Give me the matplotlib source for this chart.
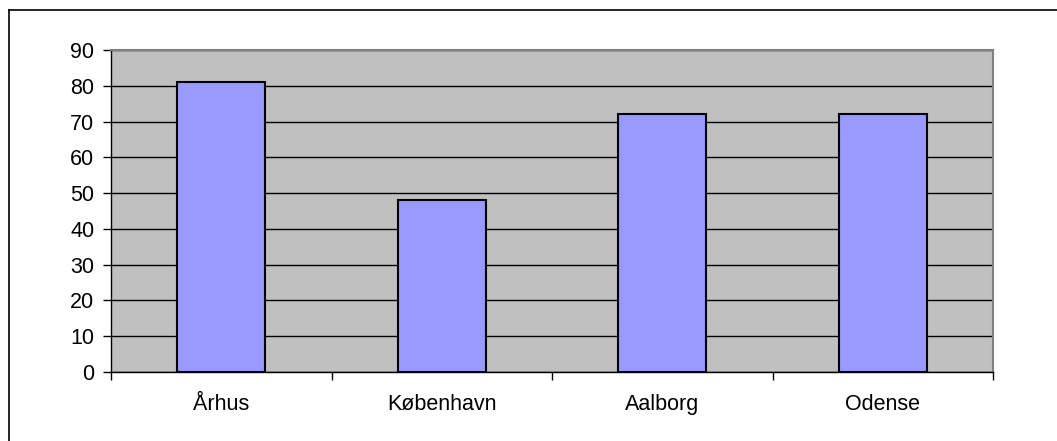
import matplotlib.pyplot as plt
from matplotlib.lines import Line2D

# Datos del grafico
ciudades = ['Århus', 'København', 'Aalborg', 'Odense']
valores = [81, 48, 72, 72]
yticks = [0, 10, 20, 30, 40, 50, 60, 70, 80, 90]

plt.rcParams['font.family'] = ['Liberation Sans', 'DejaVu Sans']

fig = plt.figure(figsize=(10.57, 4.41), dpi=100)
W, H = 1057, 441
ax = fig.add_axes([111 / W, 1 - 372 / H, (993 - 111) / W, (372 - 50) / H])
ax.set_facecolor('#C0C0C0')

x = list(range(len(ciudades)))
ax.bar(x, valores, width=0.4, color='#9999FF', edgecolor='black', linewidth=1.5, zorder=3)

ax.set_xlim(-0.5, len(ciudades) - 0.5)
ax.set_ylim(0, 90)
ax.set_yticks(yticks)
ax.yaxis.grid(True, color='black', linewidth=1.0, zorder=1)
ax.set_axisbelow(True)

# Ticks del eje x en los limites de categoria
ax.set_xticks([i - 0.5 for i in range(len(ciudades) + 1)])
ax.set_xticklabels([])
ax.set_xticks(x, minor=True)
ax.set_xticklabels(ciudades, minor=True, fontsize=15.5)
ax.tick_params(axis='x', which='minor', length=0, pad=16)
ax.tick_params(axis='x', which='major', length=6, direction='out', width=1)
ax.tick_params(axis='y', length=6, direction='out', width=1, labelsize=15.5, pad=6)

for lado in ['left', 'bottom']:
    ax.spines[lado].set_color('black')
    ax.spines[lado].set_linewidth(1.0)
for lado in ['top', 'right']:
    ax.spines[lado].set_color('#808080')
    ax.spines[lado].set_linewidth(1.5)

# Borde del grafico
fig.add_artist(Line2D([9 / W, 9 / W], [0, 1 - 10 / H], color='black', linewidth=1.2))
fig.add_artist(Line2D([9 / W, 1], [1 - 10 / H, 1 - 10 / H], color='black', linewidth=1.2))

fig.savefig('out.png', dpi=100)
